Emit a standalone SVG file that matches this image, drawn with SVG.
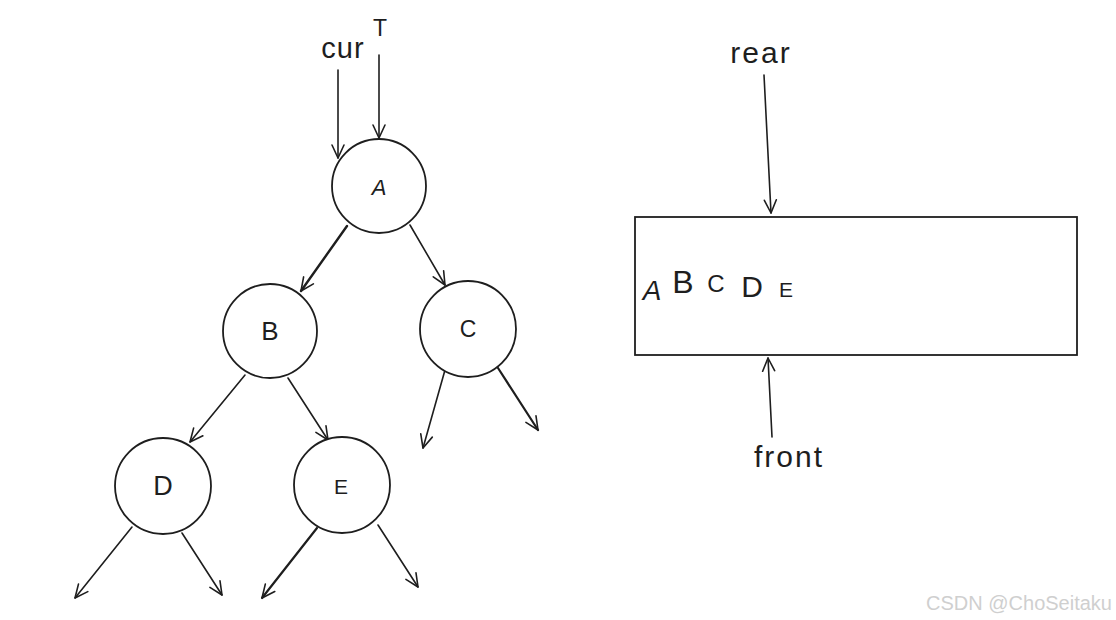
<svg xmlns="http://www.w3.org/2000/svg" width="1116" height="620" viewBox="0 0 1116 620">
<defs>
<marker id="ah" markerUnits="userSpaceOnUse" markerWidth="30" markerHeight="30" viewBox="-20 -15 30 30" refX="0" refY="0" orient="auto">
<path d="M-13,-6 L0,0 L-13,6" fill="none" stroke="#1e1e1e" stroke-width="1.6" stroke-linecap="round" stroke-linejoin="round"/>
</marker>
<style>
.n{fill:#fff;stroke:#1e1e1e;stroke-width:1.8}
.l{fill:none;stroke:#1e1e1e;stroke-width:1.6;stroke-linecap:round;marker-end:url(#ah)}
.t{font-family:"Liberation Sans",Arial,sans-serif;fill:#1e1e1e;text-anchor:middle}
.w{font-family:"Liberation Sans",Arial,sans-serif;fill:#cfcfcf;font-size:20px;text-anchor:end}
</style>
</defs>
<rect width="1116" height="620" fill="#fff"/>
<g id="connectors">
<path class="l" d="M338,70 L338,158"/>
<path class="l" d="M379,55 L379,138"/>
<path class="l" d="M347,226 L301,291" style="stroke-width:2.4"/>
<path class="l" d="M410,225 L445,285"/>
<path class="l" d="M245,375 L190,442"/>
<path class="l" d="M288,378 L328,440"/>
<path class="l" d="M445,370 L423,448"/>
<path class="l" d="M498,368 L538,430" style="stroke-width:2.2"/>
<path class="l" d="M132,527 L75,598"/>
<path class="l" d="M182,533 L222,595"/>
<path class="l" d="M317,528 L262,598" style="stroke-width:2.2"/>
<path class="l" d="M378,525 L418,587"/>
<path class="l" d="M764,75 L771,213"/>
<path class="l" d="M772,437 L768,358"/>
</g>
<g id="label-cur"><text class="t" x="343" y="58" font-size="29" letter-spacing="1">cur</text></g>
<g id="label-T"><text class="t" x="380" y="36" font-size="23">T</text></g>
<g id="node-A"><circle class="n" cx="379" cy="186" r="47"/><text class="t" x="379" y="195" font-size="22" font-style="italic">A</text></g>
<g id="node-B"><circle class="n" cx="270" cy="331" r="47"/><text class="t" x="270" y="340" font-size="26">B</text></g>
<g id="node-C"><circle class="n" cx="468" cy="329" r="48"/><text class="t" x="468" y="337" font-size="23">C</text></g>
<g id="node-D"><circle class="n" cx="163" cy="486" r="48"/><text class="t" x="163" y="495" font-size="27">D</text></g>
<g id="node-E"><circle class="n" cx="342" cy="485" r="48"/><text class="t" x="341" y="494" font-size="21">E</text></g>
<g id="queue">
<rect x="635" y="217" width="442" height="138" fill="#fff" stroke="#1e1e1e" stroke-width="1.8"/>
<text class="t" x="652" y="300" font-size="28" font-style="italic">A</text>
<text class="t" x="683" y="293" font-size="32">B</text>
<text class="t" x="716" y="292" font-size="24">C</text>
<text class="t" x="752" y="297" font-size="30">D</text>
<text class="t" x="786" y="297" font-size="21">E</text>
</g>
<g id="label-rear"><text class="t" x="761" y="63" font-size="30" letter-spacing="2">rear</text></g>
<g id="label-front"><text class="t" x="789" y="467" font-size="30" letter-spacing="2">front</text></g>
<text class="w" x="1112" y="610">CSDN @ChoSeitaku</text>
</svg>
